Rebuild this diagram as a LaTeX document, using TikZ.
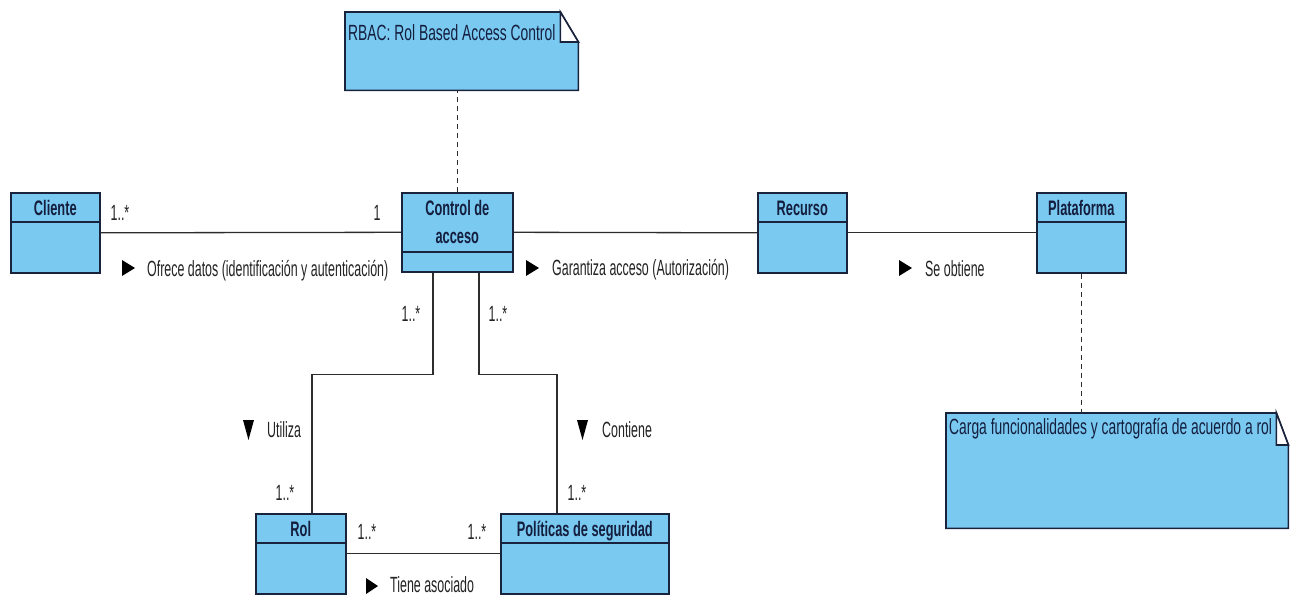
\documentclass[tikz,border=0pt]{standalone}
\usepackage{fontspec}
\setmainfont{Liberation Sans}
\newfontfamily\labelfont[FakeStretch=0.565]{Liberation Sans}
\newfontfamily\notefont[FakeStretch=0.63]{Liberation Sans}
\newfontfamily\namefont[FakeStretch=0.61]{Liberation Sans}
\usetikzlibrary{calc}
\definecolor{classfill}{RGB}{122,201,241}
\definecolor{classedge}{RGB}{25,35,60}
\definecolor{nametext}{RGB}{20,30,62}
\definecolor{labeltext}{RGB}{35,35,35}
\definecolor{linecol}{RGB}{45,45,45}
\tikzset{
  cls/.style={draw=classedge, fill=classfill, line width=1.6pt, anchor=north west, inner sep=0pt},
  divider/.style={draw=classedge, line width=1.6pt},
  cname/.style={anchor=base, inner sep=0pt, text=nametext, font=\namefont\bfseries\fontsize{21}{28}\selectfont},
  assoc/.style={draw=linecol, line width=1.3pt},
  anchorline/.style={draw=linecol, line width=1.1pt, dash pattern=on 5pt off 4pt},
  lbl/.style={anchor=base west, inner sep=0pt, text=labeltext, font=\labelfont\fontsize{22}{26}\selectfont},
  mult/.style={anchor=base, inner sep=0pt, text=labeltext, font=\labelfont\fontsize{22}{26}\selectfont},
  notebox/.style={draw=classedge, fill=classfill, line width=1.6pt},
  notetext/.style={anchor=base west, inner sep=0pt, text=nametext, font=\notefont\fontsize{22}{26}\selectfont},
  dirmark/.style={fill=black}
}
\begin{document}
\begin{tikzpicture}[x=1pt, y=-1pt]
\useasboundingbox (0,0) rectangle (1294,598);
\fill[white] (0,0) rectangle (1294,598);

% ---- notes ----
\node[anchor=north west, minimum width=233pt, minimum height=78pt, inner sep=0pt] (rbac) at (345,12) {};
\draw[notebox] (rbac.north west) -- ($(rbac.north east)+(-18,0)$) -- ($(rbac.north east)+(0,30)$)
  -- (rbac.south east) -- (rbac.south west) -- cycle;
\draw[notebox, fill=white] ($(rbac.north east)+(-18,0)$) -- ($(rbac.north east)+(-18,30)$) -- ($(rbac.north east)+(0,30)$) -- cycle;
\node[notetext] at ($(rbac.north west)+(3,28)$) {RBAC: Rol Based Access Control};

\node[anchor=north west, minimum width=342pt, minimum height=115pt, inner sep=0pt] (carga) at (946,413) {};
\draw[notebox] (carga.north west) -- ($(carga.north east)+(-12,0)$) -- ($(carga.north east)+(0,32)$)
  -- (carga.south east) -- (carga.south west) -- cycle;
\draw[notebox, fill=white] ($(carga.north east)+(-12,0)$) -- ($(carga.north east)+(-12,32)$) -- ($(carga.north east)+(0,32)$) -- cycle;
\node[notetext] at ($(carga.north west)+(3,21)$) {Carga funcionalidades y cartografía de acuerdo a rol};

% ---- classes ----
\node[cls, minimum width=89pt, minimum height=80pt] (cliente) at (10,192) {};
\draw[divider] ($(cliente.north west)+(0,30)$) -- ($(cliente.north east)+(0,30)$);
\node[cname] at ($(cliente.north)+(0,23)$) {Cliente};

\node[cls, minimum width=111pt, minimum height=79pt] (control) at (401,192) {};
\draw[divider] ($(control.north west)+(0,60)$) -- ($(control.north east)+(0,60)$);
\node[cname, anchor=center, align=center] at ($(control.north)+(0,30)$) {Control de\\acceso};

\node[cls, minimum width=89pt, minimum height=80pt] (recurso) at (757,192) {};
\draw[divider] ($(recurso.north west)+(0,30)$) -- ($(recurso.north east)+(0,30)$);
\node[cname] at ($(recurso.north)+(0,23)$) {Recurso};

\node[cls, minimum width=89pt, minimum height=80pt] (plataforma) at (1036,192) {};
\draw[divider] ($(plataforma.north west)+(0,30)$) -- ($(plataforma.north east)+(0,30)$);
\node[cname] at ($(plataforma.north)+(0,23)$) {Plataforma};

\node[cls, minimum width=90pt, minimum height=80pt] (rol) at (255,513) {};
\draw[divider] ($(rol.north west)+(0,30)$) -- ($(rol.north east)+(0,30)$);
\node[cname] at ($(rol.north)+(0,23)$) {Rol};

\node[cls, minimum width=168pt, minimum height=80pt] (politicas) at (500,513) {};
\draw[divider] ($(politicas.north west)+(0,30)$) -- ($(politicas.north east)+(0,30)$);
\node[cname] at ($(politicas.north)+(0,23)$) {Políticas de seguridad};

% ---- note anchors ----
\draw[anchorline] (control.north) -- (control.north |- rbac.south);
\draw[anchorline] (plataforma.south) -- (plataforma.south |- carga.north);

% ---- associations ----
\draw[assoc] (cliente.east) -- (control.west);
\draw[assoc] (control.east) -- (recurso.west);
\draw[assoc] (recurso.east) -- (plataforma.west);
\draw[assoc] (rol.east) -- (politicas.west);
\draw[assoc] ([xshift=32pt]control.south west) -- ++(0,102) -| ([xshift=57pt]rol.north west);
\draw[assoc] ([xshift=78pt]control.south west) -- ++(0,102) -| ([xshift=57pt]politicas.north west);

% ---- multiplicities ----
\node[mult] at (120,220) {1..*};
\node[mult] at (377,220) {1};
\node[mult] at (411,321) {1..*};
\node[mult] at (498,321) {1..*};
\node[mult] at (285,500) {1..*};
\node[mult] at (577,500) {1..*};
\node[mult] at (367,539) {1..*};
\node[mult] at (477,539) {1..*};

% ---- association names with reading direction ----
\fill[dirmark] (122,260) -- (135,268) -- (122,276) -- cycle;
\node[lbl] at (147,276) {Ofrece datos (identificación y autenticación)};

\fill[dirmark] (526,260) -- (539,268) -- (526,276) -- cycle;
\node[lbl] at (552,275) {Garantiza acceso (Autorización)};

\fill[dirmark] (899,260) -- (912,268) -- (899,276) -- cycle;
\node[lbl] at (925,276) {Se obtiene};

\fill[dirmark] (243,420) -- (254,420) -- (248.5,440) -- cycle;
\node[lbl] at (267,437) {Utiliza};

\fill[dirmark] (577,420) -- (588,420) -- (582.5,440) -- cycle;
\node[lbl] at (602,437) {Contiene};

\fill[dirmark] (366,578) -- (378,586) -- (366,594) -- cycle;
\node[lbl] at (390,592) {Tiene asociado};
\end{tikzpicture}
\end{document}
